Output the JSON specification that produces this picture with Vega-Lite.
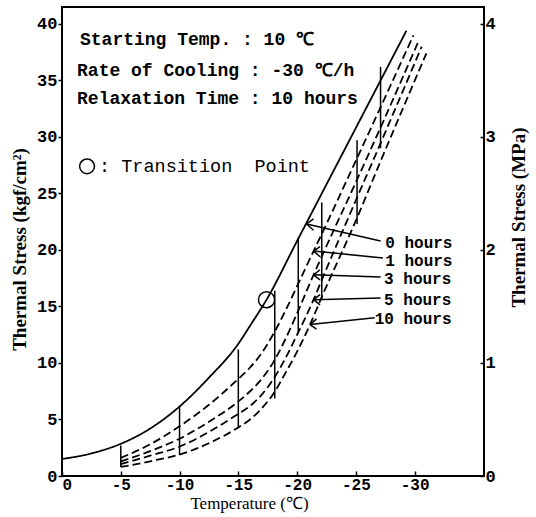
{
  "$schema": "https://vega.github.io/schema/vega-lite/v6.json",
  "width": 422,
  "height": 469,
  "autosize": "none",
  "padding": {"left": 62, "top": 7, "right": 52, "bottom": 41},
  "background": "white",
  "config": {"view": {"stroke": "black", "strokeWidth": 2}},
  "datasets": {
    "curves": [
      {"curve": "0 hours", "T": 0, "s": 1.5}, {"curve": "0 hours", "T": -2.5, "s": 2.0}, {"curve": "0 hours", "T": -5, "s": 2.85}, {"curve": "0 hours", "T": -7.5, "s": 4.2}, {"curve": "0 hours", "T": -10, "s": 6.15}, {"curve": "0 hours", "T": -12.5, "s": 8.7}, {"curve": "0 hours", "T": -15, "s": 11.7}, {"curve": "0 hours", "T": -16, "s": 13.3}, {"curve": "0 hours", "T": -17.4, "s": 15.6}, {"curve": "0 hours", "T": -20, "s": 20.8}, {"curve": "0 hours", "T": -25, "s": 30.8}, {"curve": "0 hours", "T": -29.3, "s": 39.4},
      {"curve": "1 hours", "T": -5, "s": 1.6}, {"curve": "1 hours", "T": -7.5, "s": 2.8}, {"curve": "1 hours", "T": -10, "s": 4.4}, {"curve": "1 hours", "T": -12.5, "s": 6.3}, {"curve": "1 hours", "T": -15, "s": 8.6}, {"curve": "1 hours", "T": -16, "s": 9.6}, {"curve": "1 hours", "T": -17, "s": 10.9}, {"curve": "1 hours", "T": -18, "s": 12.6}, {"curve": "1 hours", "T": -19, "s": 14.6}, {"curve": "1 hours", "T": -20, "s": 16.8}, {"curve": "1 hours", "T": -21.4, "s": 19.9}, {"curve": "1 hours", "T": -22, "s": 21.2}, {"curve": "1 hours", "T": -25, "s": 27.9}, {"curve": "1 hours", "T": -27, "s": 32.4}, {"curve": "1 hours", "T": -29.9, "s": 39.0},
      {"curve": "3 hours", "T": -5, "s": 1.3}, {"curve": "3 hours", "T": -7.5, "s": 2.2}, {"curve": "3 hours", "T": -10, "s": 3.3}, {"curve": "3 hours", "T": -12.5, "s": 4.8}, {"curve": "3 hours", "T": -15, "s": 6.6}, {"curve": "3 hours", "T": -16, "s": 7.5}, {"curve": "3 hours", "T": -17, "s": 8.6}, {"curve": "3 hours", "T": -18, "s": 10.1}, {"curve": "3 hours", "T": -19, "s": 12.1}, {"curve": "3 hours", "T": -20, "s": 14.4}, {"curve": "3 hours", "T": -21.4, "s": 17.8}, {"curve": "3 hours", "T": -22, "s": 19.2}, {"curve": "3 hours", "T": -25, "s": 26.0}, {"curve": "3 hours", "T": -27, "s": 30.6}, {"curve": "3 hours", "T": -30.3, "s": 38.4},
      {"curve": "5 hours", "T": -5, "s": 1.05}, {"curve": "5 hours", "T": -7.5, "s": 1.8}, {"curve": "5 hours", "T": -10, "s": 2.6}, {"curve": "5 hours", "T": -12.5, "s": 3.9}, {"curve": "5 hours", "T": -15, "s": 5.5}, {"curve": "5 hours", "T": -16, "s": 6.2}, {"curve": "5 hours", "T": -17, "s": 7.2}, {"curve": "5 hours", "T": -18, "s": 8.6}, {"curve": "5 hours", "T": -19, "s": 10.4}, {"curve": "5 hours", "T": -20, "s": 12.5}, {"curve": "5 hours", "T": -21.4, "s": 15.6}, {"curve": "5 hours", "T": -22, "s": 17.1}, {"curve": "5 hours", "T": -25, "s": 24.4}, {"curve": "5 hours", "T": -27, "s": 29.2}, {"curve": "5 hours", "T": -30.6, "s": 38.0},
      {"curve": "10 hours", "T": -5, "s": 0.8}, {"curve": "10 hours", "T": -7.5, "s": 1.3}, {"curve": "10 hours", "T": -10, "s": 1.9}, {"curve": "10 hours", "T": -12.5, "s": 2.9}, {"curve": "10 hours", "T": -15, "s": 4.3}, {"curve": "10 hours", "T": -16, "s": 5.0}, {"curve": "10 hours", "T": -17, "s": 6.0}, {"curve": "10 hours", "T": -18, "s": 7.3}, {"curve": "10 hours", "T": -19, "s": 9.1}, {"curve": "10 hours", "T": -20, "s": 11.0}, {"curve": "10 hours", "T": -21.1, "s": 13.4}, {"curve": "10 hours", "T": -22, "s": 15.6}, {"curve": "10 hours", "T": -25, "s": 22.6}, {"curve": "10 hours", "T": -27, "s": 27.6}, {"curve": "10 hours", "T": -31, "s": 37.4}
    ],
    "bars": [
      {"T": -5, "s": 2.7, "s2": 0.8}, {"T": -10, "s": 6.15, "s2": 1.85}, {"T": -15, "s": 11.2, "s2": 4.3}, {"T": -18.1, "s": 16.4, "s2": 6.85},
      {"T": -20.1, "s": 21.1, "s2": 12.6}, {"T": -22.1, "s": 24.2, "s2": 15.6}, {"T": -25.1, "s": 29.7, "s2": 22.3}, {"T": -27.1, "s": 36.2, "s2": 29.0}
    ],
    "leaders": [
      {"T": -27.1, "s": 20.8, "T2": -20.8, "s2": 22.3},
      {"T": -27.3, "s": 19.3, "T2": -21.4, "s2": 19.9},
      {"T": -27.1, "s": 17.6, "T2": -21.4, "s2": 17.8},
      {"T": -27.1, "s": 15.75, "T2": -21.4, "s2": 15.6},
      {"T": -26.6, "s": 14.0, "T2": -21.1, "s2": 13.4},
      {"T": -21.4, "s": 22.75, "T2": -20.8, "s2": 22.3},
      {"T": -21.4, "s": 21.75, "T2": -20.8, "s2": 22.3},
      {"T": -21.95, "s": 20.3, "T2": -21.4, "s2": 19.9},
      {"T": -21.95, "s": 19.4, "T2": -21.4, "s2": 19.9},
      {"T": -21.95, "s": 18.25, "T2": -21.4, "s2": 17.8},
      {"T": -21.95, "s": 17.35, "T2": -21.4, "s2": 17.8},
      {"T": -21.95, "s": 16.05, "T2": -21.4, "s2": 15.6},
      {"T": -21.95, "s": 15.15, "T2": -21.4, "s2": 15.6},
      {"T": -21.65, "s": 13.9, "T2": -21.1, "s2": 13.4},
      {"T": -21.65, "s": 13.0, "T2": -21.1, "s2": 13.4}
    ],
    "labels": [
      {"label": "0 hours", "T": -27.5, "s": 20.6},
      {"label": "1 hours", "T": -27.5, "s": 19.0},
      {"label": "3 hours", "T": -27.4, "s": 17.4},
      {"label": "5 hours", "T": -27.4, "s": 15.6},
      {"label": "10 hours", "T": -26.6, "s": 13.9}
    ],
    "notes": [
      {"label": "Starting Temp. : 10 ℃", "T": -1.53, "s": 38.6},
      {"label": "Rate of Cooling : -30 ℃/h", "T": -1.28, "s": 35.8},
      {"label": "Relaxation Time : 10 hours", "T": -1.28, "s": 33.4}
    ],
    "legendnote": [
      {"label": ": Transition\u00a0\u00a0Point", "T": -3.15, "s": 27.4}
    ],
    "transition": [
      {"T": -17.4, "s": 15.6}
    ],
    "legendsymbol": [
      {"T": -2.13, "s": 27.4}
    ],
    "mpa": [
      {"mpa": 0}, {"mpa": 4}
    ]
  },
  "layer": [
    {
      "encoding": {
        "x": {
          "field": "T", "type": "quantitative",
          "scale": {"domain": [0, -35.9], "nice": false, "zero": false},
          "axis": {
            "values": [0, -5, -10, -15, -20, -25, -30],
            "labelExpr": "'' + datum.value",
            "domain": false, "grid": false,
            "tickColor": "black", "tickSize": -5, "tickWidth": 1.5,
            "labelPadding": 5,
            "labelFont": "Liberation Mono", "labelFontWeight": "bold", "labelFontSize": 16, "labelColor": "black",
            "title": "Temperature (℃)",
            "titleFont": "Liberation Serif", "titleFontSize": 17, "titleFontWeight": "normal", "titleColor": "black",
            "titlePadding": 3, "titleX": 187
          }
        },
        "y": {
          "field": "s", "type": "quantitative",
          "scale": {"domain": [0, 41.5], "nice": false, "zero": false},
          "axis": {
            "orient": "left",
            "values": [0, 5, 10, 15, 20, 25, 30, 35, 40],
            "domain": false, "grid": false,
            "tickColor": "black", "tickSize": 4, "tickWidth": 1.5,
            "labelPadding": 1,
            "labelFont": "Liberation Mono", "labelFontWeight": "bold", "labelFontSize": 17, "labelColor": "black",
            "title": "Thermal Stress  (kgf/cm²)",
            "titleFont": "Liberation Serif", "titleFontSize": 19, "titleFontWeight": "bold", "titleColor": "black",
            "titlePadding": 7, "titleY": 242
          }
        }
      },
      "layer": [
        {
          "data": {"name": "curves"},
          "mark": {"type": "line", "interpolate": "monotone", "color": "black", "strokeWidth": 1.8},
          "encoding": {
            "detail": {"field": "curve"},
            "strokeDash": {
              "field": "curve", "type": "nominal",
              "scale": {"domain": ["0 hours", "1 hours", "3 hours", "5 hours", "10 hours"], "range": [[1, 0], [8, 4], [8, 4], [8, 4], [8, 4]]},
              "legend": null
            }
          }
        },
        {
          "data": {"name": "bars"},
          "mark": {"type": "rule", "color": "black", "strokeWidth": 1.5},
          "encoding": {"y2": {"field": "s2"}}
        },
        {
          "data": {"name": "leaders"},
          "mark": {"type": "rule", "color": "black", "strokeWidth": 1.5},
          "encoding": {"x2": {"field": "T2"}, "y2": {"field": "s2"}}
        },
        {
          "data": {"name": "transition"},
          "mark": {"type": "point", "shape": "circle", "filled": false, "size": 260, "color": "black", "strokeWidth": 1.5, "opacity": 1}
        },
        {
          "data": {"name": "legendsymbol"},
          "mark": {"type": "point", "shape": "circle", "filled": false, "size": 220, "color": "black", "strokeWidth": 1.5, "opacity": 1}
        },
        {
          "data": {"name": "labels"},
          "mark": {"type": "text", "align": "left", "baseline": "middle", "font": "Liberation Mono", "fontWeight": "bold", "fontSize": 16, "color": "black"},
          "encoding": {"text": {"field": "label"}}
        },
        {
          "data": {"name": "notes"},
          "mark": {"type": "text", "align": "left", "baseline": "middle", "font": "Liberation Mono", "fontWeight": "bold", "fontSize": 18, "color": "black"},
          "encoding": {"text": {"field": "label"}}
        },
        {
          "data": {"name": "legendnote"},
          "mark": {"type": "text", "align": "left", "baseline": "middle", "font": "Liberation Mono", "fontWeight": "normal", "fontSize": 18.5, "color": "black"},
          "encoding": {"text": {"field": "label"}}
        }
      ]
    },
    {
      "data": {"name": "mpa"},
      "mark": {"type": "point", "opacity": 0},
      "encoding": {
        "y": {
          "field": "mpa", "type": "quantitative",
          "scale": {"domain": [0, 4.15], "nice": false, "zero": false},
          "axis": {
            "orient": "right",
            "values": [0, 1, 2, 3, 4],
            "domain": false, "grid": false,
            "tickColor": "black", "tickSize": -4, "tickWidth": 1.5,
            "labelPadding": 5,
            "labelFont": "Liberation Mono", "labelFontWeight": "bold", "labelFontSize": 17, "labelColor": "black",
            "title": "Thermal Stress (MPa)",
            "titleFont": "Liberation Serif", "titleFontSize": 19, "titleFontWeight": "bold", "titleColor": "black",
            "titleAngle": -90, "titlePadding": 33, "titleY": 210
          }
        }
      }
    }
  ],
  "resolve": {"scale": {"y": "independent"}}
}
